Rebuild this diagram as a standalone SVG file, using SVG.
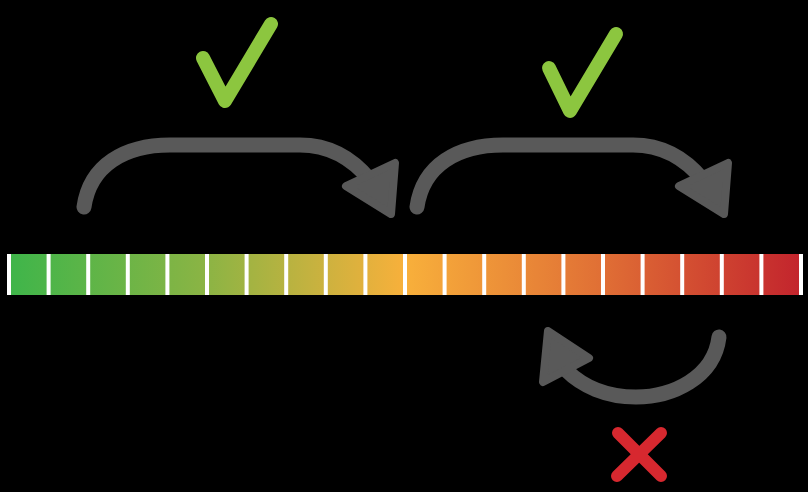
<svg xmlns="http://www.w3.org/2000/svg" width="808" height="492" viewBox="0 0 808 492">
<defs>
<linearGradient id="bar" gradientUnits="userSpaceOnUse" x1="11" y1="0" x2="799" y2="0">
<stop offset="0" stop-color="#3fb54a"/>
<stop offset="0.25" stop-color="#8cb444"/>
<stop offset="0.5" stop-color="#f8b03b"/>
<stop offset="0.75" stop-color="#e06f35"/>
<stop offset="1" stop-color="#c3252d"/>
</linearGradient>
<style>
.arr{fill:none;stroke:#595959;stroke-width:15;stroke-linecap:round;stroke-linejoin:round}
.head{fill:#595959;stroke:#595959;stroke-width:8;stroke-linejoin:round}
.seg{fill:url(#bar)}
.chk{fill:none;stroke:#8cc63f;stroke-width:14;stroke-linecap:round;stroke-linejoin:round}
.x{fill:none;stroke:#d7282f;stroke-width:12;stroke-linecap:round}
</style>
</defs>
<rect width="808" height="492" fill="#000"/>
<g id="scale">
<rect x="7" y="254" width="796" height="41" fill="#fff"/>
<rect class="seg" x="11" y="254" width="35.6" height="41"/>
<rect class="seg" x="50.6" y="254" width="35.6" height="41"/>
<rect class="seg" x="90.2" y="254" width="35.6" height="41"/>
<rect class="seg" x="129.8" y="254" width="35.6" height="41"/>
<rect class="seg" x="169.4" y="254" width="35.6" height="41"/>
<rect class="seg" x="209" y="254" width="35.6" height="41"/>
<rect class="seg" x="248.6" y="254" width="35.6" height="41"/>
<rect class="seg" x="288.2" y="254" width="35.6" height="41"/>
<rect class="seg" x="327.8" y="254" width="35.6" height="41"/>
<rect class="seg" x="367.4" y="254" width="35.6" height="41"/>
<rect class="seg" x="407" y="254" width="35.6" height="41"/>
<rect class="seg" x="446.6" y="254" width="35.6" height="41"/>
<rect class="seg" x="486.2" y="254" width="35.6" height="41"/>
<rect class="seg" x="525.8" y="254" width="35.6" height="41"/>
<rect class="seg" x="565.4" y="254" width="35.6" height="41"/>
<rect class="seg" x="605" y="254" width="35.6" height="41"/>
<rect class="seg" x="644.6" y="254" width="35.6" height="41"/>
<rect class="seg" x="684.2" y="254" width="35.6" height="41"/>
<rect class="seg" x="723.8" y="254" width="35.6" height="41"/>
<rect class="seg" x="763.4" y="254" width="35.6" height="41"/>
</g>
<g id="connectors">
<g id="arrow1">
<path class="arr" d="M 84 207 C 90 165, 125 145, 170 145 L 300 145 C 330 145, 352 158, 370 180"/>
<polygon class="head" points="346,186 395,163 391,214"/>
</g>
<g id="arrow2">
<path class="arr" d="M 417 207 C 423 165, 458 145, 503 145 L 633 145 C 663 145, 685 158, 703 180"/>
<polygon class="head" points="679,186 728,163 724,214"/>
</g>
<g id="arrow3">
<path class="arr" d="M 719 337 C 714 378, 672 397, 636 397 C 606 397, 582 386, 566 370"/>
<polygon class="head" points="548,331 589,358 543,382"/>
</g>
</g>
<g id="check1"><polyline class="chk" points="203,58 225,101 271,24"/></g>
<g id="check2"><polyline class="chk" points="549,68 570,111 616,34"/></g>
<g id="cross">
<line class="x" x1="618" y1="433" x2="661" y2="476"/>
<line class="x" x1="661" y1="433" x2="617" y2="476"/>
</g>
</svg>
